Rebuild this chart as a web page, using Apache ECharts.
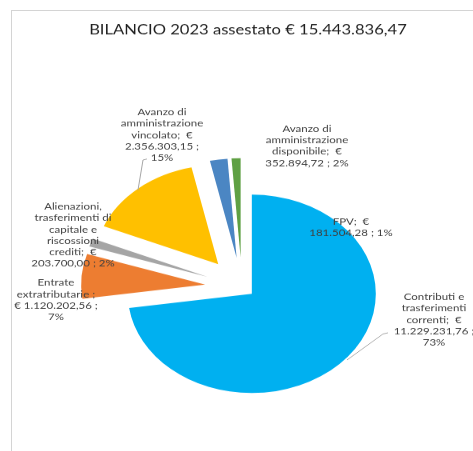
<!DOCTYPE html>
<html><head><meta charset="utf-8">
<script src="https://cdn.jsdelivr.net/npm/echarts@6/dist/echarts.min.js"></script>
<style>
html,body{margin:0;padding:0;background:#fff;}
#wrap{position:relative;width:473px;height:451px;overflow:hidden;background:#fff;}
#frame{position:absolute;left:11px;top:10px;width:520px;height:520px;border-left:1px solid #d4d4d4;border-top:1px solid #d4d4d4;}
#chart{position:absolute;left:0;top:0;width:473px;height:564px;transform:scaleY(0.8);transform-origin:0 0;}
</style></head><body>
<div id="wrap"><div id="frame"></div><div id="chart"></div></div>
<script>
const chartTitle = 'BILANCIO 2023 assestato € 15.443.836,47';
const categories = [
  'Contributi e trasferimenti correnti',
  'Entrate extratributarie',
  'Alienazioni, trasferimenti di capitale e riscossioni crediti',
  'Avanzo di amministrazione vincolato',
  'Avanzo di amministrazione disponibile',
  'FPV'
];
const values = [11229231.76, 1120202.56, 203700.00, 2356303.15, 352894.72, 181504.28];
const percentLabels = ['73%', '7%', '2%', '15%', '2%', '1%'];
const labelTemplates = [
  'Contributi e\ntrasferimenti\ncorrenti;  €\n{v} ;\n{p}',
  'Entrate\nextratributarie ;\n€ {v} ;\n{p}',
  'Alienazioni,\ntrasferimenti di\ncapitale e\nriscossioni\ncrediti;  €\n{v} ; {p}',
  'Avanzo di\namministrazione\nvincolato;  €\n{v} ;\n{p}',
  'Avanzo di\namministrazione\ndisponibile;  €\n{v} ; {p}',
  'FPV;  €\n{v} ; {p}'
];

const colors = ['#00B0F0', '#ED7D31', '#A5A5A5', '#FFC000', '#4B86C3', '#5FA043'];
const labelPos = [[434, 400], [56, 375], [73, 294], [162, 169], [307, 182.5], [351, 284]];
const leaderLines = [
  [[388, 416], [383, 417.5], [347, 450]],
  [[147, 198.75], [143, 200], [138, 237.5]]
];

function fmtIt(v) {
  const parts = v.toFixed(2).split('.');
  parts[0] = parts[0].replace(/\B(?=(\d{3})+(?!\d))/g, '.');
  return parts.join(',');
}
function labelText(i) {
  return labelTemplates[i].replace('{v}', fmtIt(values[i])).replace('{p}', percentLabels[i]);
}

const chart = echarts.init(document.getElementById('chart'), null, {renderer: 'canvas'});

function buildSeries(visibleFn, offset) {
  return {
    type: 'pie',
    z: 2,
    center: [242, 358.75],
    radius: [0, 124],
    startAngle: 90,
    clockwise: true,
    selectedMode: 'multiple',
    selectedOffset: offset,
    silent: true,
    animation: false,
    emphasis: {disabled: true},
    label: {show: false},
    labelLine: {show: false},
    data: values.map((v, i) => {
      const vis = visibleFn(i);
      return {
        name: categories[i],
        value: v,
        selected: vis,
        itemStyle: {color: vis ? colors[i] : 'rgba(0,0,0,0)', borderWidth: 0}
      };
    })
  };
}

const graphics = [];
leaderLines.forEach(pts => graphics.push({
  type: 'polyline', silent: true, z: 100,
  shape: {points: pts},
  style: {stroke: '#A6A6A6', lineWidth: 1, fill: null}
}));
values.forEach((v, i) => graphics.push({
  type: 'text', silent: true, z: 101,
  x: labelPos[i][0], y: labelPos[i][1],
  style: {
    text: labelText(i),
    font: '11.5px Lato',
    lineHeight: 14.3,
    fill: '#404040',
    align: 'center',
    verticalAlign: 'middle'
  }
}));

chart.setOption({
  backgroundColor: 'transparent',
  animation: false,
  title: {
    text: chartTitle,
    left: 243,
    top: 24,
    textAlign: 'center',
    textStyle: {fontFamily: 'Lato', fontSize: 16.6, fontWeight: 'normal', color: '#1f1f1f'}
  },
  graphic: graphics,
  series: [
    buildSeries(i => i === 0, 13),
    buildSeries(i => i !== 0, 37)
  ]
});
</script>
</body></html>
